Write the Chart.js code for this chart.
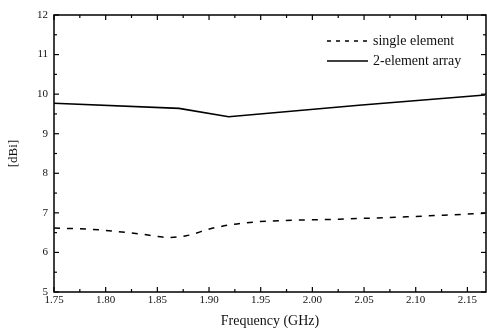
<!DOCTYPE html>
<html>
<head>
<meta charset="utf-8">
<script src="https://cdn.jsdelivr.net/npm/chart.js@4/dist/chart.umd.min.js"></script>
<style>
  html, body { margin: 0; padding: 0; background: #fff; }
  canvas { display: block; }
</style>
</head>
<body>
<canvas id="gainChart" width="487" height="330"></canvas>
<script>
// values (frequency in GHz, gain in dBi)
var singleFreq = [1.75, 1.794, 1.832, 1.861, 1.878, 1.903, 1.936, 2.026, 2.091, 2.167];
var singleGain = [6.62, 6.57, 6.47, 6.38, 6.42, 6.61, 6.75, 6.84, 6.90, 6.99];

var arrayFreq = [1.75, 1.871, 1.919, 2.045, 2.167];
var arrayGain = [9.77, 9.64, 9.43, 9.72, 9.98];

var seriesNames = ['single element', '2-element array'];

var xTicks = [1.75, 1.80, 1.85, 1.90, 1.95, 2.00, 2.05, 2.10, 2.15];
var yTicks = [5, 6, 7, 8, 9, 10, 11, 12];

var toPoints = function(xs, ys){
    return xs.map(function(x, i){ return { x: x, y: ys[i] }; });
};

var serif = '"Liberation Serif", "DejaVu Serif", serif';

// frame, inward ticks on all four sides, and the legend box inside the plot
var framePlugin = {
    id: 'frame',
    afterDraw: function(chart){
        var ctx = chart.ctx;
        var a = chart.chartArea;
        var xs = chart.scales.x, ys = chart.scales.y;
        ctx.save();
        ctx.strokeStyle = '#000';
        ctx.lineWidth = 1.5;
        ctx.strokeRect(a.left, a.top, a.right - a.left, a.bottom - a.top);

        ctx.lineWidth = 1.2;
        var tick = function(x1, y1, x2, y2){
            ctx.beginPath(); ctx.moveTo(x1, y1); ctx.lineTo(x2, y2); ctx.stroke();
        };
        xTicks.forEach(function(v){
            var px = xs.getPixelForValue(v);
            tick(px, a.bottom, px, a.bottom - 5);
            tick(px, a.top, px, a.top + 5);
            var m = xs.getPixelForValue(v + 0.025);
            if (m < a.right - 1) {
                tick(m, a.bottom, m, a.bottom - 3);
                tick(m, a.top, m, a.top + 3);
            }
        });
        yTicks.forEach(function(v){
            var py = ys.getPixelForValue(v);
            tick(a.left, py, a.left + 5, py);
            tick(a.right, py, a.right - 5, py);
            if (v < 12) {
                var m = ys.getPixelForValue(v + 0.5);
                tick(a.left, m, a.left + 3, m);
                tick(a.right, m, a.right - 3, m);
            }
        });

        // legend
        var lx = a.right - 159, ly = a.top + 26;
        ctx.font = '14px ' + serif;
        ctx.fillStyle = '#111';
        ctx.textBaseline = 'middle';
        chart.data.datasets.forEach(function(ds, i){
            var y = ly + i * 20;
            ctx.lineWidth = 1.5;
            ctx.setLineDash(i === 0 ? [4, 5] : []);
            tick(lx, y, lx + 41, y);
            ctx.setLineDash([]);
            ctx.fillText(ds.label, lx + 46, y);
        });
        ctx.restore();
    }
};

var ctx = document.getElementById('gainChart').getContext('2d');
var chart = new Chart(ctx, {
    type: 'line',
    data: {
        datasets: [{
            label: seriesNames[0],
            data: toPoints(singleFreq, singleGain),
            borderColor: '#000',
            borderWidth: 1.5,
            borderDash: [6, 7],
            pointRadius: 0,
            cubicInterpolationMode: 'monotone',
            fill: false
        }, {
            label: seriesNames[1],
            data: toPoints(arrayFreq, arrayGain),
            borderColor: '#000',
            borderWidth: 1.6,
            pointRadius: 0,
            tension: 0,
            fill: false
        }]
    },
    options: {
        responsive: false,
        animation: false,
        devicePixelRatio: 1,
        layout: { padding: { top: 15, right: 1, left: 0, bottom: 0 } },
        plugins: {
            legend: { display: false },
            tooltip: { enabled: false }
        },
        scales: {
            x: {
                type: 'linear',
                min: 1.75,
                max: 2.168,
                grid: { display: false, drawTicks: false },
                border: { display: false },
                afterBuildTicks: function(scale){
                    scale.ticks = xTicks.map(function(v){ return { value: v }; });
                },
                afterFit: function(scale){ scale.height = 38; },
                ticks: {
                    color: '#111',
                    font: { family: serif, size: 11 },
                    padding: 2,
                    maxRotation: 0,
                    callback: function(v){ return Number(v).toFixed(2); }
                },
                title: {
                    display: true,
                    text: 'Frequency (GHz)',
                    color: '#111',
                    font: { family: serif, size: 14 },
                    padding: { top: 0, bottom: 0 }
                }
            },
            y: {
                min: 5,
                max: 12,
                grid: { display: false, drawTicks: false },
                border: { display: false },
                afterBuildTicks: function(scale){
                    scale.ticks = yTicks.map(function(v){ return { value: v }; });
                },
                afterFit: function(scale){ scale.width = 54; },
                ticks: {
                    color: '#111',
                    font: { family: serif, size: 11 },
                    padding: 6
                },
                title: {
                    display: true,
                    text: '[dBi]',
                    color: '#111',
                    font: { family: serif, size: 13 },
                    padding: { top: 6, bottom: 0 }
                }
            }
        }
    },
    plugins: [framePlugin]
});
</script>
</body>
</html>
